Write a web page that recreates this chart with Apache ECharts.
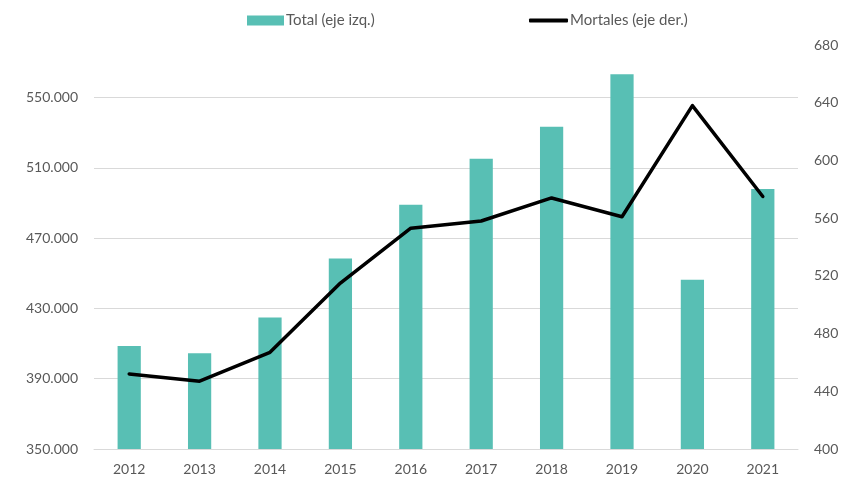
<!DOCTYPE html>
<html>
<head>
<meta charset="utf-8">
<script src="https://cdn.jsdelivr.net/npm/echarts@6/dist/echarts.min.js"></script>
<style>
  html, body { margin: 0; padding: 0; background: #fff; }
  #chart { width: 857px; height: 480px; }
</style>
</head>
<body>
<div id="chart"></div>
<script>
// Years on the category axis
const years = ['2012', '2013', '2014', '2015', '2016', '2017', '2018', '2019', '2020', '2021'];
// Total (left axis)
const totalValues = [408600, 404500, 424900, 458400, 489100, 515200, 533400, 563300, 446300, 498000];
// Mortales (right axis)
const mortalesValues = [452, 447, 467, 515, 553, 558, 574, 561, 638, 575];

const textColor = '#595959';
const fontFamily = 'Lato, "Liberation Sans", sans-serif';
const legendText = { color: textColor, fontSize: 15, fontFamily: fontFamily, padding: [0, 0, 0, -3] };

const chart = echarts.init(document.getElementById('chart'));
chart.setOption({
  animation: false,
  textStyle: { fontFamily: fontFamily },
  legend: [
    {
      top: 8,
      left: 242,
      itemWidth: 37,
      itemHeight: 10,
      textStyle: legendText,
      data: [{ name: 'Total (eje izq.)', icon: 'rect' }]
    },
    {
      top: 8,
      left: 524,
      itemWidth: 39,
      itemHeight: 4,
      textStyle: legendText,
      data: [{ name: 'Mortales (eje der.)', icon: 'roundRect', itemStyle: { color: '#000' } }]
    }
  ],
  grid: { left: 94, right: 59, top: 45, bottom: 31 },
  xAxis: {
    type: 'category',
    data: years,
    axisLine: { lineStyle: { color: '#D9D9D9', width: 1 } },
    axisTick: { show: false },
    axisLabel: { color: textColor, fontSize: 14, margin: 13 }
  },
  yAxis: [
    {
      type: 'value',
      min: 350000,
      max: 580000,
      interval: 40000,
      axisLine: { show: false },
      axisTick: { show: false },
      splitLine: { showMaxLine: false, lineStyle: { color: '#D9D9D9', width: 1 } },
      axisLabel: {
        color: textColor,
        fontSize: 14,
        margin: 16,
        showMaxLabel: false,
        formatter: v => (v % 40000 === 30000 ? Math.round(v / 1000) + '.000' : '')
      }
    },
    {
      type: 'value',
      min: 400,
      max: 680,
      interval: 40,
      axisLine: { show: false },
      axisTick: { show: false },
      splitLine: { show: false },
      axisLabel: { color: textColor, fontSize: 14, margin: 16 }
    }
  ],
  series: [
    {
      name: 'Total (eje izq.)',
      type: 'bar',
      yAxisIndex: 0,
      data: totalValues,
      barWidth: '33%',
      itemStyle: { color: '#58BFB4' }
    },
    {
      name: 'Mortales (eje der.)',
      type: 'line',
      yAxisIndex: 1,
      data: mortalesValues,
      symbol: 'none',
      lineStyle: { color: '#000', width: 3.5, cap: 'round', join: 'round' },
      itemStyle: { color: '#000' }
    }
  ]
});
</script>
</body>
</html>
